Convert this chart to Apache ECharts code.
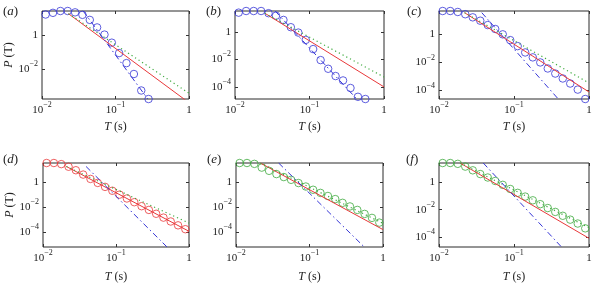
<!DOCTYPE html>
<html lang="en">
<head>
<meta charset="utf-8">
<title>P(T) panels</title>
<style>
  html, body { margin: 0; padding: 0; background: #fff; }
  #chart { width: 600px; height: 287px; }
</style>
</head>
<body>
<div id="chart"></div>
<script src="https://cdn.jsdelivr.net/npm/echarts@6/dist/echarts.min.js"></script>
<script>
// periods T (s) of the circle markers, shared by all panels
var periods = [0.0112, 0.0141, 0.0178, 0.0224, 0.0282, 0.0355, 0.0447, 0.0562, 0.0708, 0.0891,
               0.112, 0.141, 0.178, 0.224, 0.282, 0.355, 0.447, 0.562, 0.708, 0.891];

// P(T) of the circles, one array per panel
var circlesA = [17.4, 21.9, 28.2, 28.2, 23.4, 16.6, 8.3, 2.95, 1.10, 0.363, 0.0871, 0.0219, 0.0049, 5.1e-4, 1.58e-4];
var circlesB = [25.1, 33.1, 33.1, 33.1, 22.9, 15.1, 7.41, 2.19, 0.891, 0.263, 0.0562, 0.00891, 0.00209, 6.17e-4,
                2.95e-4, 8.32e-5, 1.91e-5, 1.32e-5];
var circlesC = [45.7, 45.7, 38.9, 26.9, 16.2, 9.33, 4.57, 2.40, 1.0, 0.389, 0.145, 0.0513, 0.0229, 0.01,
                0.00372, 0.00162, 7.24e-4, 3.16e-4, 1.17e-4, 2.51e-5];
var circlesD = [35.5, 35.5, 28.8, 17.8, 9.33, 4.17, 1.86, 0.891, 0.427, 0.209, 0.102, 0.0501, 0.0251, 0.012,
                0.00603, 0.00295, 0.00145, 7.08e-4, 3.47e-4, 1.70e-4];
var circlesE = [35.5, 35.5, 30.2, 15.1, 8.32, 4.57, 2.63, 1.58, 0.871, 0.457, 0.251, 0.141, 0.0794, 0.0447,
                0.0224, 0.0115, 0.00603, 0.00288, 0.00138, 5.75e-4];
var circlesF = [24.0, 24.0, 20.9, 13.2, 7.08, 3.80, 2.14, 1.20, 0.631, 0.316, 0.166, 0.0891, 0.0479, 0.0251,
                0.0132, 0.00692, 0.00363, 0.00191, 0.001, 4.47e-4];

// straight model lines, [[T, P], [T, P]]
var redA = [[0.0229, 19.5], [1, 9.5e-5]];
var greenA = [[0.0229, 19.5], [1, 3.5e-4]];
var dashA = [[0.0363, 28.2], [0.275, 1.58e-4]];
var redB = [[0.0251, 22.9], [1, 1e-4]];
var greenB = [[0.0251, 22.9], [1, 5.25e-4]];
var dashB = [[0.0346, 33.1], [0.431, 1.32e-5]];
var redC = [[0.0219, 34.7], [1, 7.94e-5]];
var greenC = [[0.0219, 34.7], [1, 3.47e-4]];
var dashC = [[0.0372, 34.7], [0.389, 2.51e-5]];
var redD = [[0.0209, 18.6], [1, 1.15e-4]];
var greenD = [[0.0209, 18.6], [1, 5.25e-4]];
var dashD = [[0.0389, 18.6], [0.5, 6.31e-6]];
var redE = [[0.0214, 35.5], [1, 1.58e-4]];
var greenE = [[0.0214, 35.5], [1, 5.01e-4]];
var dashE = [[0.038, 35.5], [0.556, 6.31e-6]];
var redF = [[0.0191, 24.0], [1, 8.51e-5]];
var greenF = [[0.0191, 24.0], [1, 5.01e-4]];
var dashF = [[0.0389, 24.0], [0.43, 2.0e-5]];

// axis limits and tick values
var xRange = [0.01, 1];
var xTicks = [0.01, 0.1, 1];
var yRanges = [[1.58e-4, 28.2], [1.32e-5, 33.1], [2.51e-5, 45.7], [6.31e-6, 35.5], [6.31e-6, 35.5], [2.0e-5, 24.0]];
var yTicks = [[0.01, 1], [1e-4, 0.01, 1], [1e-4, 0.01, 1], [1e-4, 0.01, 1], [1e-4, 0.01, 1], [1e-4, 0.01, 1]];
var letters = ['a', 'b', 'c', 'd', 'e', 'f'];

var FONT = 'Liberation Serif';
var INK = '#222';
var BLUE = '#3636d6';
var RED = '#e8383a';
var GREEN = '#3faa3f';

var panels = [
  { circles: circlesA, mark: BLUE, red: redA, green: greenA, dash: dashA, box: [42, 11, 147, 88], letterPos: [3, 5] },
  { circles: circlesB, mark: BLUE, red: redB, green: greenB, dash: dashB, box: [235, 11, 149, 88], letterPos: [206, 5] },
  { circles: circlesC, mark: BLUE, red: redC, green: greenC, dash: dashC, box: [439, 11, 150, 88], letterPos: [407, 5] },
  { circles: circlesD, mark: RED, red: redD, green: greenD, dash: dashD, box: [43, 163, 146, 84], letterPos: [3, 153] },
  { circles: circlesE, mark: GREEN, red: redE, green: greenE, dash: dashE, box: [236, 163, 147, 84], letterPos: [207, 153] },
  { circles: circlesF, mark: GREEN, red: redF, green: greenF, dash: dashF, box: [439, 163, 150, 84], letterPos: [406, 153] }
];

function powLabel(v) {
  var e = Math.round(Math.log10(v));
  if (e === 0) return '{n|1}';
  return '{n|10}{s|\u2212' + (-e) + '}';
}

var labelRich = {
  n: { fontFamily: FONT, fontSize: 11, lineHeight: 18, color: INK },
  s: { fontFamily: FONT, fontSize: 8, lineHeight: 9, verticalAlign: 'top', color: INK }
};

var nameStyle = {
  fontFamily: FONT, fontSize: 12, color: INK,
  rich: { i: { fontFamily: FONT, fontSize: 12, fontStyle: 'italic', color: INK } }
};

function makeAxis(grid, position, range, ticks, showLabels, margin) {
  return {
    type: 'log',
    logBase: 10,
    gridIndex: grid,
    position: position,
    min: range[0],
    max: range[1],
    axisLine: { show: false },
    splitLine: { show: false },
    minorTick: { show: false },
    axisTick: { show: true, inside: true, length: 3, customValues: ticks, lineStyle: { color: '#333', width: 1 } },
    axisLabel: { show: showLabels, customValues: ticks, formatter: powLabel, margin: margin, fontFamily: FONT, rich: labelRich }
  };
}

var option = { animation: false, textStyle: { fontFamily: FONT }, title: [], grid: [], xAxis: [], yAxis: [], series: [] };

panels.forEach(function (p, i) {
  option.grid.push({
    left: p.box[0], top: p.box[1], width: p.box[2], height: p.box[3],
    show: true, borderColor: '#2b2b2b', borderWidth: 1, backgroundColor: 'transparent'
  });

  var xb = makeAxis(i, 'bottom', xRange, xTicks, true, 2);
  xb.name = '{i|T} (s)';
  xb.nameLocation = 'middle';
  xb.nameGap = i < 3 ? 22 : 24;
  xb.nameTextStyle = nameStyle;
  option.xAxis.push(xb, makeAxis(i, 'top', xRange, xTicks, false, 2));

  var yl = makeAxis(i, 'left', yRanges[i], yTicks[i], true, 4);
  if (i === 0 || i === 3) {
    yl.name = '{i|P} (T)';
    yl.nameLocation = 'middle';
    yl.nameGap = i === 0 ? 21 : 24;
    yl.nameTextStyle = nameStyle;
  }
  option.yAxis.push(yl, makeAxis(i, 'right', yRanges[i], yTicks[i], false, 4));

  option.title.push({
    text: '({i|' + letters[i] + '})',
    left: p.letterPos[0], top: p.letterPos[1], padding: 0,
    textStyle: { fontFamily: FONT, fontSize: 13, fontWeight: 'normal', color: INK,
      rich: { i: { fontFamily: FONT, fontSize: 13, fontStyle: 'italic', color: INK } } }
  });

  var ax = { xAxisIndex: 2 * i, yAxisIndex: 2 * i };
  option.series.push(Object.assign({
    type: 'line', data: p.red, showSymbol: false, silent: true,
    lineStyle: { color: RED, width: 1 }
  }, ax));
  option.series.push(Object.assign({
    type: 'line', data: p.green, showSymbol: false, silent: true,
    lineStyle: { color: GREEN, width: 1.2, type: [1.2, 3] }
  }, ax));
  option.series.push(Object.assign({
    type: 'line', data: p.dash, showSymbol: false, silent: true,
    lineStyle: { color: BLUE, width: 1, type: [6, 3, 1.5, 3] }
  }, ax));
  option.series.push(Object.assign({
    type: 'scatter', symbol: 'circle', symbolSize: 7.5, silent: true,
    data: p.circles.map(function (v, k) { return [periods[k], v]; }),
    itemStyle: { color: 'rgba(0,0,0,0)', borderColor: p.mark, borderWidth: 1 }
  }, ax));
});

var chart = echarts.init(document.getElementById('chart'), null, { renderer: 'canvas' });
chart.setOption(option);
</script>
</body>
</html>
